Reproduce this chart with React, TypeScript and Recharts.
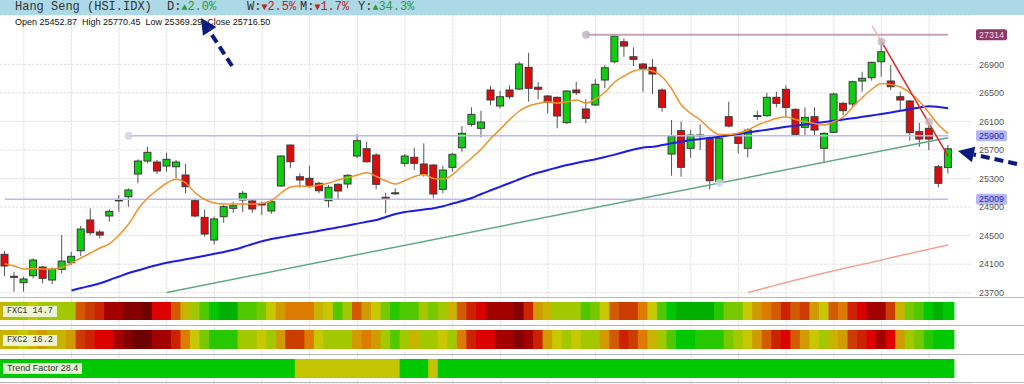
import {
  Bar,
  CartesianGrid,
  ComposedChart,
  Line,
  ReferenceDot,
  ReferenceLine,
  XAxis,
  YAxis,
} from "recharts";

// Hang Seng daily candles, 100 sessions
const opens = [
  24238, 23930, 23840, 23938, 24060, 23878, 24028, 24120, 24288, 24719,
  24550, 24775, 24995, 25045, 25363, 25545, 25531, 25475, 25465, 25349,
  24989, 24756, 24438, 24765, 24882, 24999, 24985, 24952, 24845, 25195,
  25769, 25325, 25303, 25233, 24989, 25219, 25223, 25615, 25717, 25629,
  25037, 25095, 25513, 25597, 25503, 25489, 25149, 25457, 25731, 26059,
  26003, 26540, 26316, 26540, 26554, 26858, 26578, 26456, 26438, 26082,
  26540, 26274, 26330, 26680, 26936, 27216, 27006, 26904, 26858, 26540,
  25643, 25970, 25723, 25905, 25863, 25255, 26166, 25909, 25723, 26178,
  26180, 26438, 26550, 26269, 26017, 26166, 25723, 25947, 26353, 26344,
  26666, 26712, 26936, 26666, 26446, 26386, 25956, 26003, 25465, 25452.87,
];
const highs = [
  24284, 23994, 23924, 24182, 24074, 24056, 24508, 24274, 24639, 24882,
  24578, 24868, 25069, 25163, 25569, 25745, 25559, 25661, 25559, 25503,
  25023, 24868, 24765, 24929, 24975, 25125, 25009, 24975, 24999, 25629,
  25775, 25373, 25475, 25255, 25209, 25233, 25359, 25923, 25816, 25653,
  25101, 25163, 25643, 25731, 25793, 25503, 25479, 25661, 26035, 26297,
  26250, 26596, 26530, 26606, 26936, 27062, 26652, 26470, 26446, 26540,
  26656, 26410, 26690, 26890, 27314, 27264, 27138, 26922, 26974, 26564,
  26120, 26096, 25979, 26059, 25909, 25886, 26376, 25933, 26003, 26250,
  26502, 26516, 26606, 26283, 26297, 26297, 25947, 26502, 26376, 26670,
  26796, 26936, 27216, 26890, 26516, 26400, 26082, 26096, 25489, 25770.45,
];
const lows = [
  23934, 23714, 23714, 23902, 23832, 23822, 23972, 24088, 24214, 24508,
  24462, 24695, 24835, 24905, 25233, 25513, 25363, 25395, 25303, 25093,
  24756, 24485, 24378, 24681, 24821, 24831, 24821, 24789, 24803, 25185,
  25443, 25171, 25171, 25093, 24896, 25013, 25163, 25583, 25521, 25149,
  24812, 25069, 25465, 25419, 25325, 25023, 25093, 25395, 25675, 26026,
  25877, 26330, 26283, 26410, 26540, 26376, 26410, 26213, 26003, 26063,
  26470, 26073, 26316, 26564, 26914, 27006, 26876, 26516, 26484, 26236,
  25339, 25325, 25591, 25699, 25149, 25199, 26017, 25653, 25597, 26120,
  26166, 26297, 26166, 25909, 25909, 25909, 25513, 25933, 26190, 26306,
  26516, 26670, 26726, 26540, 26260, 25830, 25745, 25699, 25177, 25369.29,
];
const closes = [
  24074, 23920, 23892, 24158, 23902, 24028, 24144, 24210, 24592, 24541,
  24508, 24840, 25000, 25139, 25545, 25667, 25405, 25569, 25531, 25185,
  24775, 24522, 24733, 24905, 24919, 25093, 24873, 24929, 24975, 25615,
  25535, 25279, 25205, 25129, 25177, 25125, 25345, 25830, 25535, 25219,
  25013, 25100, 25615, 25513, 25359, 25083, 25419, 25639, 25933, 26199,
  26091, 26400, 26446, 26446, 26904, 26564, 26550, 26367, 26176, 26526,
  26502, 26143, 26620, 26852, 27296, 27156, 26970, 26844, 26764, 26297,
  25895, 25457, 25909, 25910, 25269, 25863, 26035, 25793, 25979, 26182,
  26438, 26353, 26297, 25919, 26157, 25979, 25933, 26484, 26250, 26656,
  26704, 26928, 27076, 26586, 26400, 25942, 25853, 25853, 25233, 25716.5,
];

// short moving average (orange)
const ema = [
  24102, 24074, 24032, 24039, 24032, 24032, 24053, 24116, 24186, 24256,
  24326, 24389, 24508, 24662, 24873, 25027, 25139, 25237, 25289, 25237,
  25097, 25006, 24957, 24943, 24943, 24943, 24943, 24950, 24992, 25097,
  25181, 25195, 25188, 25209, 25237, 25279, 25314, 25349, 25381, 25328,
  25265, 25223, 25272, 25328, 25356, 25300, 25289, 25356, 25475, 25587,
  25713, 25860, 25993, 26127, 26246, 26316, 26351, 26374, 26358, 26376,
  26400, 26358, 26414, 26512, 26652, 26736, 26806, 26827, 26806, 26722,
  26554, 26330, 26211, 26120, 25993, 25916, 25916, 25937, 25979, 26049,
  26098, 26143, 26162, 26127, 26096, 26070, 26049, 26098, 26162, 26302,
  26435, 26554, 26631, 26617, 26582, 26498, 26379, 26218, 26049, 25930,
];
// 50 day (blue)
const ma50 = [
  null, null, null, null, null, null, null, 23731, 23766, 23797,
  23832, 23878, 23927, 23976, 24014, 24053, 24088, 24120, 24144, 24168,
  24193, 24218, 24245, 24270, 24301, 24340, 24382, 24420, 24452, 24476,
  24501, 24522, 24545, 24567, 24592, 24616, 24641, 24668, 24693, 24719,
  24761, 24803, 24831, 24847, 24866, 24884, 24912, 24950, 24985, 25027,
  25083, 25135, 25186, 25237, 25289, 25341, 25384, 25419, 25455, 25489,
  25517, 25545, 25570, 25601, 25635, 25671, 25706, 25734, 25745, 25769,
  25793, 25817, 25839, 25853, 25869, 25886, 25905, 25923, 25944, 25965,
  25984, 26005, 26024, 26041, 26056, 26073, 26091, 26110, 26127, 26143,
  26164, 26184, 26204, 26225, 26248, 26274, 26296, 26313, 26302, 26283,
];
// 200 day (salmon), only the visible tail
const ma200 = [
  null, null, null, null, null, null, null, null, null, null,
  null, null, null, null, null, null, null, null, null, null,
  null, null, null, null, null, null, null, null, null, null,
  null, null, null, null, null, null, null, null, null, null,
  null, null, null, null, null, null, null, null, null, null,
  null, null, null, null, null, null, null, null, null, null,
  null, null, null, null, null, null, null, null, null, null,
  null, null, null, null, null, null, null, null, 23703, 23738,
  23773, 23808, 23843, 23878, 23910, 23944, 23976, 24007, 24038, 24068,
  24098, 24127, 24158, 24189, 24220, 24249, 24280, 24309, 24340, 24368,
];

// heat strips: 0 = deepest red ... 16 = deep green
const fxc1 = [
  9, 11, 11, 10, 11, 11, 11, 11, 6, 5,
  4, 2, 2, 1, 1, 0, 3, 3, 6, 9,
  11, 13, 15, 16, 16, 13, 13, 12, 10, 8,
  7, 7, 7, 9, 10, 13, 11, 6, 8, 10,
  12, 14, 13, 13, 11, 12, 11, 9, 6, 4,
  3, 2, 2, 2, 1, 4, 8, 9, 11, 11,
  11, 13, 12, 10, 6, 5, 5, 7, 10, 13,
  15, 16, 16, 16, 16, 14, 12, 12, 10, 8,
  7, 6, 4, 6, 5, 8, 10, 6, 7, 4,
  3, 2, 2, 5, 9, 12, 13, 15, 16, 15,
];
const fxc2 = [
  9, 9, 10, 9, 8, 9, 9, 8, 5, 4,
  3, 3, 2, 1, 0, 0, 2, 2, 4, 7,
  10, 12, 14, 14, 14, 11, 11, 10, 11, 8,
  5, 5, 7, 10, 11, 11, 11, 8, 7, 8,
  11, 13, 11, 9, 11, 11, 10, 11, 7, 4,
  3, 3, 2, 2, 1, 2, 4, 8, 10, 11,
  10, 11, 11, 8, 6, 4, 5, 7, 9, 11,
  13, 15, 15, 14, 14, 14, 12, 11, 10, 8,
  6, 4, 3, 6, 8, 10, 11, 9, 8, 5,
  4, 3, 2, 3, 8, 11, 12, 14, 15, 15,
];
// 1 = trending, 0 = neutral
const trend = [
  1, 1, 1, 1, 1, 1, 1, 1, 1, 1,
  1, 1, 1, 1, 1, 1, 1, 1, 1, 1,
  1, 1, 1, 1, 1, 1, 1, 1, 1, 1,
  1, 0, 0, 0, 0, 0, 0, 0, 0, 0,
  0, 0, 1, 1, 1, 0, 1, 1, 1, 1,
  1, 1, 1, 1, 1, 1, 1, 1, 1, 1,
  1, 1, 1, 1, 1, 1, 1, 1, 1, 1,
  1, 1, 1, 1, 1, 1, 1, 1, 1, 1,
  1, 1, 1, 1, 1, 1, 1, 1, 1, 1,
  1, 1, 1, 1, 1, 1, 1, 1, 1, 1,
];

const priceTicks = [23700, 24100, 24500, 24900, 25300, 25700, 26100, 26500, 26900];
const gridCandles = [2, 7, 12, 17, 22, 27, 32, 37, 42, 47, 52, 57, 62, 67, 72, 77, 82, 87, 92, 97];
const changes = [
  { k: "D", v: 2.0 },
  { k: "W", v: -2.5 },
  { k: "M", v: -1.7 },
  { k: "Y", v: 34.3 },
];
const stripReadings = { fxc1: 14.7, fxc2: 16.2, trend: 28.4 };
const resistance = 27314;
const support1 = 25900;
const support2 = 25009;

const HEAT = [
  "#6e0000", "#850000", "#a30000", "#dc0000", "#cc2200", "#cc3c00", "#d45a00",
  "#dd7a00", "#d09a00", "#c8b400", "#c8c800", "#a2c800", "#78c800", "#50c800",
  "#28c800", "#00c800", "#00b000",
];
const TREND_COL = ["#c4c400", "#00c800"];

const W = 1024;
const H = 384;
const TOP = 15;
const SLOTS = 102; // two empty slots right of the last candle
const GREEN = "#12cc12";
const RED = "#dc0c0c";

const rows = Array.from({ length: SLOTS }, (_, i) => ({
  i,
  open: opens[i],
  high: highs[i],
  low: lows[i],
  close: closes[i],
  ema: ema[i] ?? null,
  ma50: ma50[i] ?? null,
  ma200: ma200[i] ?? null,
  f1: fxc1[i],
  f2: fxc2[i],
  tf: trend[i],
}));

const Candle = (props: any) => {
  const { x, y, width, height, payload } = props;
  if (!payload || payload.open == null || !height) return null;
  const { open, close, high, low } = payload;
  const k = height / (high - low);
  const yOf = (v: number) => y + (high - v) * k;
  const top = yOf(Math.max(open, close));
  const bot = yOf(Math.min(open, close));
  const cx = x + width / 2;
  const up = close >= open;
  return (
    <g>
      <line x1={cx} x2={cx} y1={y} y2={y + height} stroke="#555" strokeWidth={1} />
      <rect
        x={x}
        y={top}
        width={width}
        height={Math.max(bot - top, 1)}
        fill={up ? GREEN : RED}
        stroke="#3a3a3a"
        strokeWidth={1}
      />
    </g>
  );
};

const stripShape = (pick: (r: any) => string | null) => (props: any) => {
  const { x, y, width, height, payload } = props;
  if (!payload) return null;
  const col = pick(payload);
  if (!col) return null;
  const top = Math.min(y, y + height);
  return <rect x={x - 0.6} y={top} width={width + 1.6} height={Math.abs(height)} fill={col} />;
};

const STRIPS = [
  { key: "f1", axis: "s1", band: [320, 302], pick: (r: any) => (r.f1 == null ? null : HEAT[r.f1]) },
  { key: "f2", axis: "s2", band: [349, 330], pick: (r: any) => (r.f2 == null ? null : HEAT[r.f2]) },
  { key: "tf", axis: "s3", band: [378, 359], pick: (r: any) => (r.tf == null ? null : TREND_COL[r.tf]) },
];

const PriceTag = (props: any) => {
  const { viewBox, text, bg, fg } = props;
  if (!viewBox) return null;
  const x = viewBox.x + viewBox.width + 4;
  const y = viewBox.y;
  return (
    <g>
      <rect x={x} y={y - 5.5} width={31} height={11} rx={2} fill={bg} />
      <text
        x={x + 15.5}
        y={y}
        dy="0.35em"
        textAnchor="middle"
        fontSize={9}
        fill={fg}
        fontFamily="'Liberation Sans', Arial, sans-serif"
      >
        {text}
      </text>
    </g>
  );
};

const gridX = ({ xAxis }: any) => {
  const s = xAxis?.scale;
  if (!s) return [];
  const at = (v: number) => (typeof s === "function" ? s(v) : s.map ? s.map(v) : s.apply(v));
  const bw = typeof s.bandwidth === "function" ? s.bandwidth() : 0;
  return gridCandles.map((c) => at(c) + bw / 2);
};

const Arrow = ({ from, to }: { from: number[]; to: number[] }) => {
  const dx = to[0] - from[0];
  const dy = to[1] - from[1];
  const len = Math.hypot(dx, dy);
  const ux = dx / len;
  const uy = dy / len;
  const bx = to[0] - 16 * ux;
  const by = to[1] - 16 * uy;
  const nx = -uy;
  const ny = ux;
  return (
    <g>
      <line x1={from[0]} y1={from[1]} x2={bx} y2={by} stroke="#0c1a7e" strokeWidth={4} strokeDasharray="9 5" />
      <polygon
        points={`${to[0]},${to[1]} ${bx + 8 * nx},${by + 8 * ny} ${bx - 8 * nx},${by - 8 * ny}`}
        fill="#0c1a7e"
      />
    </g>
  );
};

const labelBox: React.CSSProperties = {
  position: "absolute",
  left: 3,
  padding: "0 4px",
  background: "rgba(240,246,222,0.95)",
  color: "#333",
  lineHeight: "11px",
  height: 11,
};

export default function App() {
  const last = opens.length - 1;
  return (
    <div
      style={{
        position: "absolute",
        left: 0,
        top: 0,
        width: W,
        height: H,
        overflow: "hidden",
        background: "#fff",
        fontFamily: "'Liberation Sans', Arial, sans-serif",
      }}
    >
      <ComposedChart
        width={W}
        height={H}
        data={rows}
        margin={{ top: TOP, right: 0, bottom: 0, left: 0 }}
        barCategoryGap={0}
        barGap={0}
      >
        <XAxis xAxisId="c" dataKey="i" type="category" hide />
        <XAxis xAxisId="s1" dataKey="i" type="category" hide />
        <XAxis xAxisId="s2" dataKey="i" type="category" hide />
        <XAxis xAxisId="s3" dataKey="i" type="category" hide />
        <YAxis
          yAxisId="p"
          orientation="right"
          width={52}
          domain={[22421, 27591]}
          allowDataOverflow
          ticks={priceTicks}
          interval={0}
          axisLine={false}
          tickLine={false}
          tickSize={0}
          tickMargin={7}
          tick={{ fontSize: 9, fill: "#555", fontFamily: "'Liberation Sans', Arial, sans-serif" }}
        />
        <YAxis yAxisId="f" hide domain={[TOP, H]} reversed allowDataOverflow type="number" />

        <CartesianGrid
          xAxisId="c"
          yAxisId="p"
          stroke="#e2e2e2"
          strokeDasharray="3 1"
          verticalCoordinatesGenerator={gridX}
        />

        {STRIPS.map((s) => (
          <Bar
            key={s.key}
            xAxisId={s.axis}
            yAxisId="f"
            dataKey={(r: any) => (r[s.key] == null ? null : s.band)}
            shape={stripShape(s.pick)}
            isAnimationActive={false}
          />
        ))}

        <ReferenceLine
          xAxisId="c"
          yAxisId="p"
          segment={[{ x: 0, y: support2 }, { x: 99, y: support2 }]}
          stroke="#b8baf4"
          strokeWidth={1.5}
        />
        <ReferenceLine
          xAxisId="c"
          yAxisId="p"
          segment={[{ x: 13, y: support1 }, { x: 99, y: support1 }]}
          stroke="#b8baf4"
          strokeWidth={1.5}
        />
        <ReferenceLine
          xAxisId="c"
          yAxisId="p"
          segment={[{ x: 61, y: resistance }, { x: 99, y: resistance }]}
          stroke="#c6a2b6"
          strokeWidth={2}
        />
        <ReferenceLine
          xAxisId="c"
          yAxisId="p"
          segment={[{ x: 17, y: 23704 }, { x: 99, y: 25872 }]}
          stroke="#62a886"
          strokeWidth={1.5}
        />

        <Line xAxisId="c" yAxisId="p" dataKey="ma200" stroke="#f2a494" strokeWidth={1.5} dot={false} type="monotone" isAnimationActive={false} />
        <Line xAxisId="c" yAxisId="p" dataKey="ma50" stroke="#1c1ce6" strokeWidth={2} dot={false} type="monotone" isAnimationActive={false} />

        <Bar
          xAxisId="c"
          yAxisId="p"
          dataKey={(r: any) => (r.low == null ? null : [r.low, r.high])}
          barSize={7}
          shape={Candle}
          isAnimationActive={false}
        />

        <Line xAxisId="c" yAxisId="p" dataKey="ema" stroke="#f0922a" strokeWidth={1.5} dot={false} type="monotone" isAnimationActive={false} />

        <ReferenceLine
          xAxisId="c"
          yAxisId="p"
          segment={[{ x: 91, y: 27442 }, { x: 92, y: 27219 }]}
          stroke="#f2b8b8"
          strokeWidth={1.5}
        />
        <ReferenceLine
          xAxisId="c"
          yAxisId="p"
          segment={[{ x: 92, y: 27219 }, { x: 99, y: 25610 }]}
          stroke="#e02424"
          strokeWidth={1.5}
        />

        <ReferenceDot xAxisId="c" yAxisId="p" x={61} y={resistance} r={4} fill="#bdb2c2" fillOpacity={0.8} stroke="none" />
        <ReferenceDot xAxisId="c" yAxisId="p" x={13} y={support1} r={4} fill="#cfd0e2" fillOpacity={0.8} stroke="none" />
        <ReferenceDot xAxisId="c" yAxisId="p" x={75} y={25237} r={4} fill="#cfe0ea" fillOpacity={0.8} stroke="none" />
        <ReferenceDot xAxisId="c" yAxisId="p" x={92} y={27216} r={4} fill="#c4b8bc" fillOpacity={0.8} stroke="none" />
        <ReferenceDot xAxisId="c" yAxisId="p" x={97} y={26096} r={4} fill="#c4b8bc" fillOpacity={0.8} stroke="none" />

        <ReferenceLine
          xAxisId="c"
          yAxisId="p"
          y={resistance}
          strokeOpacity={0}
          label={<PriceTag text={String(resistance)} bg="#8e3a68" fg="#f4d2e6" />}
        />
        <ReferenceLine
          xAxisId="c"
          yAxisId="p"
          y={support1}
          strokeOpacity={0}
          label={<PriceTag text={String(support1)} bg="#b6b8f6" fg="#2a2aa0" />}
        />
        <ReferenceLine
          xAxisId="c"
          yAxisId="p"
          y={support2}
          strokeOpacity={0}
          label={<PriceTag text={String(support2)} bg="#b6b8f6" fg="#2a2aa0" />}
        />
      </ComposedChart>

      {/* header */}
      <div style={{ position: "absolute", left: 0, top: 0, width: W, height: TOP, background: "#add8e6" }} />
      <div
        style={{
          position: "absolute",
          left: 15,
          top: 0,
          height: TOP,
          lineHeight: `${TOP}px`,
          font: "12px 'Liberation Mono', 'DejaVu Sans Mono', monospace",
          color: "#333",
          whiteSpace: "pre",
        }}
      >
        Hang Seng (HSI.IDX)
      </div>
      {changes.map((c, n) => {
        const up = c.v >= 0;
        return (
          <div
            key={c.k}
            style={{
              position: "absolute",
              left: [167, 247, 300, 358][n],
              top: 0,
              height: TOP,
              lineHeight: `${TOP}px`,
              font: "12px 'Liberation Mono', 'DejaVu Sans Mono', monospace",
              color: "#333",
              whiteSpace: "pre",
            }}
          >
            {c.k}:
            <span style={{ color: up ? "#2e9a2e" : "#c42020", fontSize: 10 }}>{up ? "▲" : "▼"}</span>
            <span style={{ color: up ? "#2e9a2e" : "#c42020" }}>{Math.abs(c.v).toFixed(1)}%</span>
          </div>
        );
      })}
      <div
        style={{
          position: "absolute",
          left: 15,
          top: 17,
          fontSize: 9,
          lineHeight: "11px",
          color: "#111",
          whiteSpace: "pre",
        }}
      >
        {`Open ${opens[last].toFixed(2)}  High ${highs[last].toFixed(2)}  Low ${lows[last].toFixed(2)}  Close ${closes[last].toFixed(2)}`}
      </div>

      {/* strip separators */}
      {[297, 325, 354, 382].map((y) => (
        <div key={y} style={{ position: "absolute", left: 0, top: y, width: W, height: 1, background: "#b8b8b8" }} />
      ))}

      <div style={{ ...labelBox, top: 306, font: "8.5px 'Liberation Mono', monospace", lineHeight: "11px" }}>
        FXC1 {stripReadings.fxc1.toFixed(1)}
      </div>
      <div style={{ ...labelBox, top: 335, font: "8.5px 'Liberation Mono', monospace", lineHeight: "11px" }}>
        FXC2 {stripReadings.fxc2.toFixed(1)}
      </div>
      <div style={{ ...labelBox, top: 363, fontSize: 9, lineHeight: "11px" }}>
        Trend Factor {stripReadings.trend.toFixed(1)}
      </div>

      <svg width={W} height={H} style={{ position: "absolute", left: 0, top: 0, pointerEvents: "none" }}>
        <Arrow from={[232, 66]} to={[201, 18]} />
        <Arrow from={[1017, 164]} to={[958, 151]} />
      </svg>
    </div>
  );
}
